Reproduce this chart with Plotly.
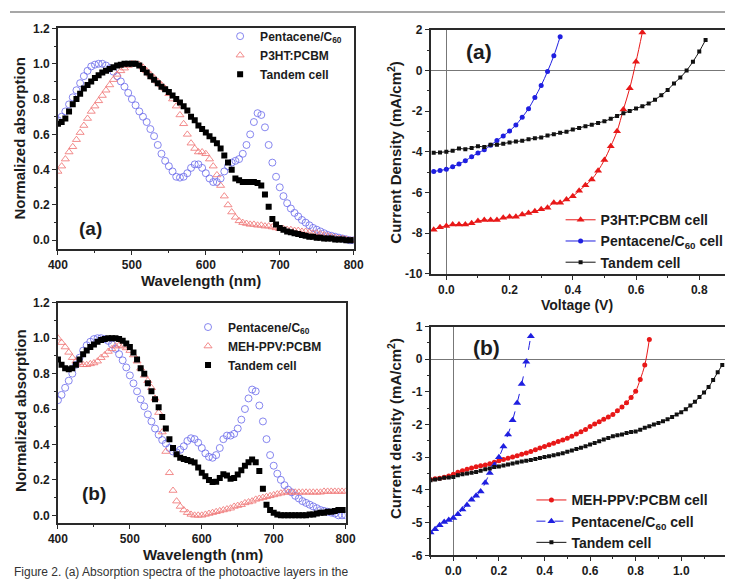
import plotly.graph_objects as go

W, H = 735, 588

# ---------------- data: absorption spectra ----------------
wavelength = list(range(400, 801, 5))

abs_a_pentacene = [
    0.68, 0.70, 0.73, 0.77, 0.81, 0.85, 0.89, 0.93, 0.96, 0.985,
    0.995, 1.0, 1.0, 0.99, 0.975, 0.955, 0.93, 0.90, 0.87, 0.835,
    0.80, 0.765, 0.73, 0.70, 0.67, 0.63, 0.59, 0.54, 0.49, 0.45,
    0.42, 0.39, 0.36, 0.355, 0.36, 0.38, 0.41, 0.43, 0.43, 0.41,
    0.38, 0.35, 0.33, 0.33, 0.35, 0.39, 0.42, 0.44, 0.45, 0.46,
    0.49, 0.54, 0.60, 0.67, 0.72, 0.71, 0.64, 0.54, 0.44, 0.36,
    0.30, 0.25, 0.21, 0.18, 0.155, 0.135, 0.115, 0.10, 0.085, 0.07,
    0.06, 0.05, 0.04, 0.03, 0.025, 0.02, 0.015, 0.01, 0.005, 0.0,
    0.0]
abs_a_p3ht = [
    0.39, 0.42, 0.46, 0.50, 0.53, 0.57, 0.61, 0.65, 0.69, 0.73,
    0.76, 0.79, 0.82, 0.85, 0.88, 0.91, 0.94, 0.96, 0.975, 0.99,
    1.0, 1.0, 0.995, 0.98, 0.96, 0.94, 0.92, 0.90, 0.88, 0.86,
    0.83, 0.80, 0.76, 0.71, 0.66, 0.60, 0.55, 0.52, 0.50, 0.50,
    0.49, 0.46, 0.42, 0.37, 0.31, 0.25, 0.20, 0.16, 0.13, 0.11,
    0.10, 0.095, 0.09, 0.09, 0.085, 0.085, 0.08, 0.08, 0.075, 0.07,
    0.065, 0.065, 0.06, 0.06, 0.055, 0.055, 0.05, 0.05, 0.045, 0.04,
    0.04, 0.035, 0.03, 0.025, 0.02, 0.015, 0.01, 0.01, 0.005, 0.0,
    0.0]
abs_a_tandem = [
    0.66, 0.67, 0.69, 0.73, 0.77, 0.80, 0.83, 0.86, 0.88, 0.90,
    0.92, 0.935, 0.95, 0.96, 0.97, 0.98, 0.99, 0.995, 1.0, 1.0,
    1.0, 1.0, 0.99, 0.97, 0.95, 0.93, 0.91, 0.89, 0.87, 0.855,
    0.84, 0.82, 0.80, 0.78, 0.76, 0.735, 0.70, 0.68, 0.65, 0.63,
    0.61, 0.59, 0.57, 0.55, 0.52, 0.48, 0.44, 0.40, 0.35, 0.34,
    0.33, 0.33, 0.33, 0.33, 0.325, 0.31, 0.26, 0.19, 0.12, 0.09,
    0.07, 0.06, 0.05, 0.045, 0.04, 0.035, 0.03, 0.025, 0.02, 0.02,
    0.015, 0.015, 0.01, 0.01, 0.01, 0.005, 0.005, 0.005, 0.0, 0.0,
    0.0]

abs_b_pentacene = [
    0.65, 0.68, 0.72, 0.76, 0.80, 0.85, 0.89, 0.93, 0.96, 0.98,
    0.995, 1.0, 1.0, 0.995, 0.985, 0.965, 0.94, 0.91, 0.875, 0.835,
    0.79, 0.745, 0.70, 0.655, 0.615, 0.57, 0.53, 0.49, 0.455, 0.425,
    0.405, 0.38, 0.36, 0.355, 0.37, 0.39, 0.42, 0.435, 0.43, 0.41,
    0.38, 0.35, 0.33, 0.325, 0.34, 0.38, 0.43, 0.45, 0.45, 0.46,
    0.49, 0.54, 0.60, 0.66, 0.71, 0.70, 0.62, 0.53, 0.43, 0.34,
    0.28, 0.235, 0.20, 0.17, 0.145, 0.13, 0.11, 0.095, 0.08, 0.07,
    0.06, 0.05, 0.04, 0.03, 0.025, 0.02, 0.015, 0.01, 0.0, 0.0,
    0.0]
abs_b_mehppv = [
    1.0, 0.975, 0.95, 0.92, 0.89, 0.87, 0.86, 0.85, 0.85, 0.855,
    0.86, 0.87, 0.89, 0.905, 0.925, 0.94, 0.955, 0.96, 0.955, 0.945,
    0.93, 0.905, 0.87, 0.83, 0.79, 0.76, 0.72, 0.66, 0.58, 0.47,
    0.36, 0.24, 0.14, 0.08, 0.05, 0.03, 0.015, 0.005, 0.0, 0.0,
    0.0, 0.005, 0.01, 0.015, 0.02, 0.025, 0.03, 0.035, 0.04, 0.05,
    0.055, 0.06, 0.07, 0.075, 0.08, 0.09, 0.095, 0.10, 0.105, 0.11,
    0.115, 0.12, 0.125, 0.13, 0.13, 0.13, 0.13, 0.13, 0.13, 0.13,
    0.13, 0.13, 0.13, 0.13, 0.135, 0.135, 0.135, 0.135, 0.135, 0.135,
    0.135]
abs_b_tandem = [
    0.88, 0.85, 0.83, 0.825, 0.83, 0.85, 0.88, 0.91, 0.93, 0.95,
    0.965, 0.98, 0.99, 0.995, 1.0, 1.0, 1.0, 0.995, 0.985, 0.97,
    0.95, 0.92, 0.88, 0.83, 0.80, 0.745, 0.70, 0.655, 0.61, 0.555,
    0.49, 0.43, 0.38, 0.345, 0.325, 0.318, 0.312, 0.305, 0.298, 0.27,
    0.24, 0.22, 0.20, 0.188, 0.19, 0.21, 0.232, 0.225, 0.207, 0.21,
    0.23, 0.255, 0.28, 0.30, 0.315, 0.30, 0.25, 0.15, 0.06, 0.03,
    0.015, 0.005, 0.0, 0.0, 0.0, 0.0, 0.0, 0.0, 0.0, 0.0,
    0.005, 0.005, 0.01, 0.015, 0.015, 0.02, 0.02, 0.025, 0.03, 0.03,
    0.03]

# ---------------- data: J-V curves ----------------
v_a_p3ht = [round(-0.04 + 0.02 * i, 2) for i in range(34)]
j_a_p3ht = [-7.84, -7.71, -7.65, -7.58, -7.58, -7.57, -7.52, -7.41, -7.36, -7.36,
            -7.36, -7.25, -7.20, -7.20, -7.09, -7.01, -6.93, -6.83, -6.75, -6.51,
            -6.51, -6.35, -6.19, -5.92, -5.65, -5.36, -4.93, -4.40, -3.73, -2.99,
            -1.92, -0.88, 0.43, 1.87]
v_a_pent = [round(-0.04 + 0.02 * i, 2) for i in range(21)]
j_a_pent = [-4.97, -4.92, -4.86, -4.74, -4.60, -4.44, -4.24, -4.06, -3.90, -3.68,
            -3.45, -3.22, -2.98, -2.68, -2.30, -1.88, -1.33, -0.74, -0.05, 0.72, 1.66]
v_a_tandem = [round(-0.04 + 0.02 * i, 2) for i in range(44)]
j_a_tandem = [-4.05, -4.03, -4.00, -3.95, -3.84, -3.87, -3.81, -3.73, -3.76, -3.66,
              -3.65, -3.60, -3.54, -3.50, -3.46, -3.39, -3.33, -3.30, -3.20, -3.14,
              -3.07, -3.02, -2.90, -2.83, -2.74, -2.67, -2.58, -2.50, -2.38, -2.24,
              -2.11, -2.00, -1.87, -1.76, -1.63, -1.44, -1.22, -0.96, -0.64, -0.35,
              0.00, 0.43, 0.93, 1.50]

v_b_meh = [round(-0.10 + 0.02 * i, 2) for i in range(49)]
j_b_meh = [-3.68, -3.66, -3.64, -3.61, -3.57, -3.52, -3.46, -3.41, -3.37, -3.33,
           -3.29, -3.26, -3.24, -3.20, -3.15, -3.11, -3.07, -3.03, -2.99, -2.95,
           -2.91, -2.87, -2.82, -2.77, -2.72, -2.67, -2.62, -2.57, -2.52, -2.47,
           -2.42, -2.36, -2.29, -2.22, -2.15, -2.06, -1.98, -1.91, -1.84, -1.77,
           -1.69, -1.58, -1.46, -1.33, -1.17, -0.98, -0.62, -0.18, 0.60]
v_b_pent = [round(-0.10 + 0.02 * i, 2) for i in range(23)]
j_b_pent = [-5.30, -5.20, -5.08, -4.98, -4.92, -4.86, -4.74, -4.60, -4.46, -4.30,
            -4.18, -4.05, -3.78, -3.48, -3.24, -3.00, -2.67, -2.30, -1.87, -1.34,
            -0.76, -0.08, 0.70]
v_b_tandem = [round(-0.10 + 0.02 * i, 2) for i in range(65)]
j_b_tandem = [-3.70, -3.68, -3.66, -3.63, -3.62, -3.60, -3.55, -3.52, -3.50, -3.47,
              -3.45, -3.41, -3.37, -3.34, -3.30, -3.28, -3.25, -3.22, -3.19, -3.16,
              -3.13, -3.11, -3.08, -3.05, -3.02, -2.99, -2.97, -2.94, -2.91, -2.88,
              -2.83, -2.79, -2.75, -2.71, -2.66, -2.61, -2.56, -2.51, -2.46, -2.41,
              -2.36, -2.33, -2.30, -2.26, -2.23, -2.21, -2.16, -2.10, -2.05, -2.00,
              -1.95, -1.90, -1.84, -1.77, -1.69, -1.62, -1.53, -1.42, -1.30, -1.16,
              -1.02, -0.85, -0.64, -0.40, -0.18]

# tick labels
abs_ticks = [0.0, 0.2, 0.4, 0.6, 0.8, 1.0, 1.2]
abs_ticktext = ["0.0", "0.2", "0.4", "0.6", "0.8", "1.0", "1.2"]
wl_ticks = [400, 500, 600, 700, 800]
jv_a_yticks = [-10, -8, -6, -4, -2, 0, 2]
jv_a_yticktext = ["-10", "-8", "-6", "-4", "-2", "0", "2"]
jv_a_xticks = [0.0, 0.2, 0.4, 0.6, 0.8]
jv_a_xticktext = ["0.0", "0.2", "0.4", "0.6", "0.8"]
jv_b_yticks = [-6, -5, -4, -3, -2, -1, 0, 1]
jv_b_yticktext = ["-6", "-5", "-4", "-3", "-2", "-1", "0", "1"]
jv_b_xticks = [0.0, 0.2, 0.4, 0.6, 0.8, 1.0]
jv_b_xticktext = ["0.0", "0.2", "0.4", "0.6", "0.8", "1.0"]

# ---------------- helpers ----------------
FONT = "Liberation Sans, Arial, sans-serif"
INK = "#1c1c1c"


def px(x):
    return x / W


def py(y):
    return 1 - y / H


BLUE_OPEN = "rgba(105,105,235,0.8)"
RED_OPEN = "rgba(240,120,120,0.85)"

fig = go.Figure()

# ---- panel TL ----
fig.add_trace(go.Scatter(x=wavelength, y=abs_a_pentacene, mode="markers", name="Pentacene/C<sub>60</sub>",
                         marker=dict(symbol="circle-open", size=7, color=BLUE_OPEN, line=dict(width=1)),
                         xaxis="x", yaxis="y", legend="legend"))
fig.add_trace(go.Scatter(x=wavelength, y=abs_a_p3ht, mode="markers", name="P3HT:PCBM",
                         marker=dict(symbol="triangle-up-open", size=7, color=RED_OPEN, line=dict(width=1)),
                         xaxis="x", yaxis="y", legend="legend"))
fig.add_trace(go.Scatter(x=wavelength, y=abs_a_tandem, mode="markers", name="Tandem cell",
                         marker=dict(symbol="square", size=6, color="black"),
                         xaxis="x", yaxis="y", legend="legend"))

# ---- panel BL ----
fig.add_trace(go.Scatter(x=wavelength, y=abs_b_pentacene, mode="markers", name="Pentacene/C<sub>60</sub>",
                         marker=dict(symbol="circle-open", size=7, color=BLUE_OPEN, line=dict(width=1)),
                         xaxis="x2", yaxis="y2", legend="legend2"))
fig.add_trace(go.Scatter(x=wavelength, y=abs_b_mehppv, mode="markers", name="MEH-PPV:PCBM",
                         marker=dict(symbol="triangle-up-open", size=7, color=RED_OPEN, line=dict(width=1)),
                         xaxis="x2", yaxis="y2", legend="legend2"))
fig.add_trace(go.Scatter(x=wavelength, y=abs_b_tandem, mode="markers", name="Tandem cell",
                         marker=dict(symbol="square", size=6, color="black"),
                         xaxis="x2", yaxis="y2", legend="legend2"))

# ---- panel TR ----
fig.add_trace(go.Scatter(x=v_a_p3ht, y=j_a_p3ht, mode="lines+markers", name="P3HT:PCBM cell",
                         line=dict(color="#e81818", width=1, shape="spline"),
                         marker=dict(symbol="triangle-up", size=7, color="#e81818"),
                         xaxis="x3", yaxis="y3", legend="legend3"))
fig.add_trace(go.Scatter(x=v_a_pent, y=j_a_pent, mode="lines+markers", name="Pentacene/C<sub>60</sub> cell",
                         line=dict(color="#1f1fe0", width=1, shape="spline"),
                         marker=dict(symbol="circle", size=5, color="#1f1fe0"),
                         xaxis="x3", yaxis="y3", legend="legend3"))
fig.add_trace(go.Scatter(x=v_a_tandem, y=j_a_tandem, mode="lines+markers", name="Tandem cell",
                         line=dict(color="#111111", width=1, shape="spline"),
                         marker=dict(symbol="square", size=4, color="#111111"),
                         xaxis="x3", yaxis="y3", legend="legend3"))

# ---- panel BR ----
fig.add_trace(go.Scatter(x=v_b_meh, y=j_b_meh, mode="lines+markers", name="MEH-PPV:PCBM cell",
                         line=dict(color="#e81818", width=1, shape="spline"),
                         marker=dict(symbol="circle", size=5, color="#e81818"),
                         xaxis="x4", yaxis="y4", legend="legend4"))
fig.add_trace(go.Scatter(x=v_b_pent, y=j_b_pent, mode="lines+markers", name="Pentacene/C<sub>60</sub> cell",
                         line=dict(color="#1f1fe0", width=1, dash="dash", shape="spline"),
                         marker=dict(symbol="triangle-up", size=7, color="#1f1fe0"),
                         xaxis="x4", yaxis="y4", legend="legend4"))
fig.add_trace(go.Scatter(x=v_b_tandem, y=j_b_tandem, mode="lines+markers", name="Tandem cell",
                         line=dict(color="#111111", width=1, shape="spline"),
                         marker=dict(symbol="square", size=4, color="#111111"),
                         xaxis="x4", yaxis="y4", legend="legend4"))

tickfont = dict(family=FONT, size=12, color=INK, weight="bold")


def axis(domain, rng, anchor, mirror, **kw):
    d = dict(domain=domain, range=rng, anchor=anchor, showgrid=False, showline=True,
             linecolor="#2a2a2a", linewidth=1.5, mirror=mirror, ticks="outside", ticklen=4,
             tickwidth=1.2, tickcolor="#2a2a2a", tickfont=tickfont, zeroline=False, fixedrange=True)
    d.update(kw)
    return d


minor_small = dict(ticks="outside", ticklen=2, tickcolor="#2a2a2a")

fig.update_layout(
    width=W, height=H, margin=dict(l=0, r=0, t=0, b=0),
    paper_bgcolor="white", plot_bgcolor="white",
    font=dict(family=FONT, color=INK),
    xaxis=axis([px(49.3), px(353.3)], [400, 800], "y", True, tickvals=wl_ticks,
               minor=dict(minor_small, dtick=50)),
    yaxis=axis([py(248), py(22)], [-0.05, 1.2], "x", True, tickvals=abs_ticks, ticktext=abs_ticktext,
               minor=dict(minor_small, dtick=0.1)),
    xaxis2=axis([px(49.3), px(345)], [400, 800], "y2", True, tickvals=wl_ticks,
                minor=dict(minor_small, dtick=50)),
    yaxis2=axis([py(528.5), py(303)], [-0.043, 1.2], "x2", True, tickvals=abs_ticks, ticktext=abs_ticktext,
                minor=dict(minor_small, dtick=0.1)),
    xaxis3=axis([px(432.3), 1.0], [-0.05, 0.8814], "y3", True, tickvals=jv_a_xticks,
                ticktext=jv_a_xticktext, zeroline=True, zerolinecolor="#777",
                zerolinewidth=1, minor=dict(minor_small, dtick=0.1)),
    yaxis3=axis([py(273.3), py(23.3)], [-10, 2], "x3", False, tickvals=jv_a_yticks, ticktext=jv_a_yticktext,
                zeroline=True, zerolinecolor="#777", zerolinewidth=1, minor=dict(minor_small, dtick=1)),
    xaxis4=axis([px(432.3), 1.0], [-0.1, 1.192], "y4", True, tickvals=jv_b_xticks, ticktext=jv_b_xticktext,
                zeroline=True, zerolinecolor="#777", zerolinewidth=1, minor=dict(minor_small, dtick=0.1)),
    yaxis4=axis([py(561.7), py(327.3)], [-6, 1], "x4", False, tickvals=jv_b_yticks, ticktext=jv_b_yticktext,
                zeroline=True, zerolinecolor="#777", zerolinewidth=1, minor=dict(minor_small, dtick=0.5)),
    showlegend=True,
)

legfont_s = dict(family=FONT, size=12, color=INK, weight="bold")
legfont_l = dict(family=FONT, size=14, color=INK, weight="bold")
fig.update_layout(
    legend=dict(x=px(216), y=py(15), xanchor="left", yanchor="top", bgcolor="rgba(0,0,0,0)",
                font=legfont_s, tracegroupgap=0),
    legend2=dict(x=px(183), y=py(313), xanchor="left", yanchor="top", bgcolor="rgba(0,0,0,0)",
                 font=legfont_s, tracegroupgap=0),
    legend3=dict(x=px(566), y=py(202), xanchor="left", yanchor="top", bgcolor="rgba(0,0,0,0)",
                 font=legfont_l, tracegroupgap=0),
    legend4=dict(x=px(536), y=py(489), xanchor="left", yanchor="top", bgcolor="rgba(0,0,0,0)",
                 font=legfont_l, tracegroupgap=0),
)

ann = []


def add_text(text, x, y, size, angle=0, xanchor="center", yanchor="middle", bold=True, color=INK):
    ann.append(dict(text=text, x=px(x), y=py(y), xref="paper", yref="paper", showarrow=False,
                    xanchor=xanchor, yanchor=yanchor, textangle=angle,
                    font=dict(family=FONT, size=size, color=color, weight="bold" if bold else "normal")))


# axis titles
add_text("Wavelength (nm)", 196, 280, 15)
add_text("Normalized absorption", 10, 134, 15, angle=-90)
add_text("Wavelength (nm)", 198, 561, 15)
add_text("Normalized absorption", 10, 413, 15, angle=-90)
add_text("Current Density (mA/cm<sup>2</sup>)", 395, 149, 15, angle=-90)
add_text("Voltage (V)", 583, 305, 14)
add_text("Current density (mA/cm<sup>2</sup>)", 395, 432, 15, angle=-90)
# panel labels
add_text("(a)", 83, 227, 19)
add_text("(b)", 86, 498, 19)
add_text("(a)", 482, 46, 21)
add_text("(b)", 490, 349, 21)
# caption at the foot of the page
add_text("Figure 2. (a) Absorption spectra of the photoactive layers in the", 2, 588, 12,
         xanchor="left", yanchor="bottom", bold=False, color="#333")

fig.update_layout(annotations=ann)
fig.update_layout(shapes=[dict(type="line", xref="paper", yref="paper", x0=0, x1=1, y0=py(5), y1=py(5),
                               line=dict(color="#8a8a8a", width=1.5))])

fig.write_html("out.html")
